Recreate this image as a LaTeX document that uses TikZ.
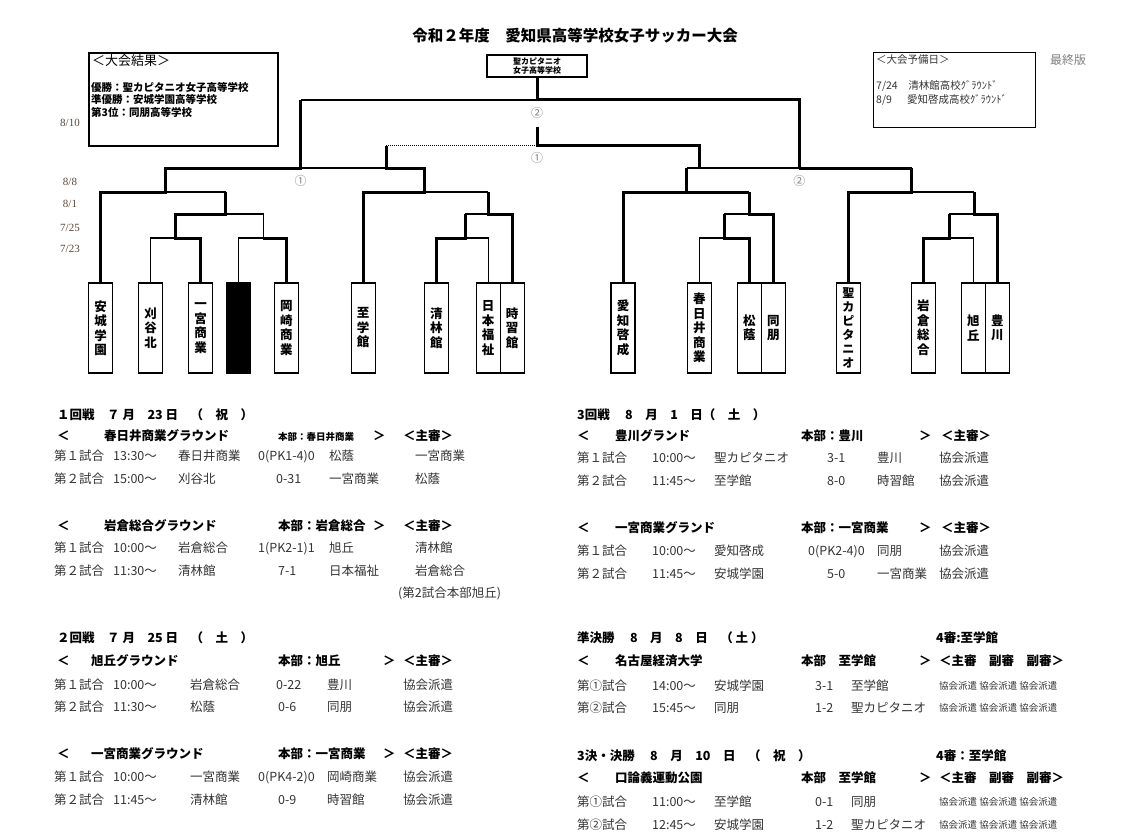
\documentclass[tikz,border=0pt]{standalone}
\usepackage{fontspec}
\setmainfont{Noto Sans CJK JP}
\newfontfamily\serifnum{Liberation Serif}
\definecolor{DateInk}{HTML}{5A4636}
\definecolor{RowInk}{HTML}{333333}
\tikzset{
  win/.style={line width=3pt},
  lose/.style={line width=1.2pt},
  team/.style={draw, line width=1.3pt, minimum width=24pt, minimum height=90pt,
    inner sep=0pt, align=center, font=\bfseries\fontsize{12.5}{14.5}\selectfont},
  frame/.style={draw, line width=1.6pt},
  datelbl/.style={anchor=base, font=\serifnum\fontsize{11}{11}\selectfont, text=DateInk},
  roundno/.style={font=\fontsize{12}{12}\selectfont, text=gray},
  txt/.style={anchor=base west, inner sep=0pt, text=RowInk, font=\fontsize{12.5}{12.5}\selectfont},
  hdr/.style={anchor=base west, inner sep=0pt, font=\bfseries\fontsize{12.5}{12.5}\selectfont},
  small/.style={anchor=base west, inner sep=0pt, text=RowInk, font=\fontsize{9.5}{9.5}\selectfont}
}
\newcommand{\kyo}{協会派遣 協会派遣 協会派遣}
\begin{document}
\begin{tikzpicture}[x=1pt,y=-1pt]
  \useasboundingbox (0,0) rectangle (1143,840);
  % title and boxes
  \node[font=\bfseries\fontsize{15.5}{15.5}\selectfont] (title) at (575,36) {令和２年度　愛知県高等学校女子サッカー大会};
  \node[frame, minimum width=189pt, minimum height=93pt, anchor=north west] (result) at (88,52) {};
  \node[anchor=north west, inner sep=0pt, font=\fontsize{13}{13}\selectfont] (resulthd) at (92,54) {＜大会結果＞};
  \node[anchor=north west, inner sep=0pt, align=left, font=\bfseries\fontsize{10.5}{12.5}\selectfont] (resulttx) at (91,82)
    {優勝：聖カピタニオ女子高等学校\\準優勝：安城学園高等学校\\第3位：同朋高等学校};
  \node[frame, minimum width=100pt, minimum height=22pt, inner sep=0pt, align=center,
    font=\bfseries\fontsize{8}{9}\selectfont] (champ) at (537,66) {聖カピタニオ\\女子高等学校};
  \node[draw, line width=1.3pt, minimum width=162pt, minimum height=75pt, anchor=north west] (reserve) at (873,52) {};
  \node[anchor=north west, inner sep=0pt, text=RowInk, font=\fontsize{10.5}{10.5}\selectfont] (reservehd) at (876,54) {＜大会予備日＞};
  \node[anchor=north west, inner sep=0pt, align=left, text=RowInk, font=\fontsize{10.5}{14}\selectfont] (reservetx) at (876,80)
    {7/24\quad 清林館高校ｸﾞﾗｳﾝﾄﾞ\\8/9\quad\ \ 愛知啓成高校ｸﾞﾗｳﾝﾄﾞ};
  \node[text=gray, font=\fontsize{12}{12}\selectfont] (final) at (1068,60) {最終版};
  % dates
  \foreach \d/\y [count=\i] in {{8/10}/127, {8/8}/185, {8/1}/207, {7/25}/231, {7/23}/252}
    \node[datelbl] (date\i) at (70,\y) {\d};
  % teams
  \node[team] (ajo) at (100.7,328) {安\\城\\学\\園};
  \node[team] (kari) at (150.7,328) {刈\\谷\\北};
  \node[team] (ichi) at (200.7,328) {一\\宮\\商\\業};
  \node[team, fill=black] (blk) at (238.2,328) {};
  \node[team] (oka) at (286.4,328) {岡\\崎\\商\\業};
  \node[team] (shi) at (363.2,328) {至\\学\\館};
  \node[team] (sei) at (436.4,328) {清\\林\\館};
  \node[team] (nih) at (488.2,328) {日\\本\\福\\祉};
  \node[team] (jis) at (512.2,328) {時\\習\\館};
  \node[team] (aik) at (623,328) {愛\\知\\啓\\成};
  \node[team] (kas) at (699.3,328) {春\\日\\井\\商\\業};
  \node[team] (sho) at (749.3,328) {松\\蔭};
  \node[team] (dou) at (773.3,328) {同\\朋};
  \node[team, font=\bfseries\fontsize{12}{14}\selectfont] (cap) at (848.3,328) {聖\\カ\\ピ\\タ\\ニ\\オ};
  \node[team] (iwa) at (923.3,328) {岩\\倉\\総\\合};
  \node[team] (asa) at (973.3,328) {旭\\丘};
  \node[team] (toy) at (997.3,328) {豊\\川};
  % left half
  \draw[lose] (kari.north) |- (175.7,238);
  \draw[win] (ichi.north) |- (175.7,238) -- (175.7,214) -- (225.7,214) -- (225.7,192);
  \draw[lose] (blk.north) |- (263.2,238);
  \draw[win] (oka.north) |- (263.2,238);
  \draw[lose] (263.2,238) |- (225.7,214);
  \draw[win] (ajo.north) |- (165,192) -- (165,168) -- (300.7,168) -- (300.7,100);
  \draw[lose] (165,192) -- (225.7,192);
  \draw[lose] (300.7,168) -- (386.4,168);
  \draw[win] (shi.north) |- (424,192) -- (424,168) -- (386.4,168) -- (386.4,146);
  \draw[win] (sei.north) |- (465,238) -- (465,214);
  \draw[lose] (nih.north) |- (465,238);
  \draw[lose] (465,214) -- (488.2,214);
  \draw[win] (jis.north) |- (488.2,214) -- (488.2,192);
  \draw[lose] (424,192) -- (488.2,192);
  % final and third place
  \draw[win] (champ.south) -- (537,100);
  \draw[lose] (300.7,100) -- (537,100);
  \draw[win] (537,100) -| (799.3,168);
  \draw[line width=1pt, densely dotted] (386.4,146) -- (537,146);
  \draw[win] (537,127) |- (699.3,146) -- (699.3,168);
  % right half
  \draw[lose] (686.8,168) -- (799.3,168);
  \draw[win] (799.3,168) -- (911.8,168);
  \draw[win] (686.8,168) -- (686.8,192) -- (749.3,192);
  \draw[win] (aik.north) |- (686.8,192);
  \draw[lose] (kas.north) |- (724.3,238);
  \draw[win] (sho.north) |- (724.3,238) -- (724.3,214);
  \draw[lose] (724.3,214) -- (749.3,214);
  \draw[win] (dou.north) |- (749.3,214) -- (749.3,192);
  \draw[win] (cap.north) |- (911.8,192) -- (911.8,168);
  \draw[lose] (911.8,192) -- (974.3,192);
  \draw[win] (iwa.north) |- (949.3,238) -- (949.3,214);
  \draw[lose] (asa.north) |- (949.3,238);
  \draw[lose] (949.3,214) -- (974.3,214);
  \draw[win] (toy.north) |- (974.3,214) -- (974.3,192);
  % round numbers
  \node[roundno] (rn1) at (537,113) {②};
  \node[roundno] (rn2) at (537,158) {①};
  \node[roundno] (rn3) at (300.7,181) {①};
  \node[roundno] (rn4) at (799.3,181) {②};
  % 1st round
  \node[hdr] (d1) at (57,419) {１回戦　７ 月　23 日　（　祝　）};
  \foreach \x/\t [count=\i] in {57/＜, 104/春日井商業グラウンド, 373/＞, 403/＜主審＞}
    \node[hdr] (h1-\i) at (\x,440) {\t};
  \node[hdr, font=\bfseries\fontsize{9.5}{9.5}\selectfont] (h1-b) at (278,440) {本部：春日井商業};
  \foreach \x/\t [count=\i] in {54/第１試合, 113/13:30～, 178/春日井商業, 258/0(PK1-4)0, 329/松蔭, 415/一宮商業}
    \node[txt] (a1-\i) at (\x,460) {\t};
  \foreach \x/\t [count=\i] in {54/第２試合, 113/15:00～, 178/刈谷北, 276/0-31, 329/一宮商業, 415/松蔭}
    \node[txt] (a2-\i) at (\x,483) {\t};
  \foreach \x/\t [count=\i] in {57/＜, 104/岩倉総合グラウンド, 278/本部：岩倉総合, 373/＞, 403/＜主審＞}
    \node[hdr] (h2-\i) at (\x,530) {\t};
  \foreach \x/\t [count=\i] in {54/第１試合, 113/10:00～, 178/岩倉総合, 258/1(PK2-1)1, 329/旭丘, 415/清林館}
    \node[txt] (b1-\i) at (\x,552) {\t};
  \foreach \x/\t [count=\i] in {54/第２試合, 113/11:30～, 178/清林館, 278/7-1, 329/日本福祉, 415/岩倉総合}
    \node[txt] (b2-\i) at (\x,575) {\t};
  \node[txt] (note) at (398,597) {(第2試合本部旭丘)};
  % 2nd round
  \node[hdr] (d2) at (57,642) {２回戦　７ 月　25 日　（　土　）};
  \foreach \x/\t [count=\i] in {57/＜, 91/旭丘グラウンド, 278/本部：旭丘, 383/＞, 403/＜主審＞}
    \node[hdr] (h3-\i) at (\x,665) {\t};
  \foreach \x/\t [count=\i] in {54/第１試合, 113/10:00～, 190/岩倉総合, 276/0-22, 327/豊川, 403/協会派遣}
    \node[txt] (c1-\i) at (\x,689) {\t};
  \foreach \x/\t [count=\i] in {54/第２試合, 113/11:30～, 190/松蔭, 278/0-6, 327/同朋, 403/協会派遣}
    \node[txt] (c2-\i) at (\x,711) {\t};
  \foreach \x/\t [count=\i] in {57/＜, 91/一宮商業グラウンド, 278/本部：一宮商業, 383/＞, 403/＜主審＞}
    \node[hdr] (h4-\i) at (\x,758) {\t};
  \foreach \x/\t [count=\i] in {54/第１試合, 113/10:00～, 190/一宮商業, 258/0(PK4-2)0, 327/岡崎商業, 403/協会派遣}
    \node[txt] (e1-\i) at (\x,781) {\t};
  \foreach \x/\t [count=\i] in {54/第２試合, 113/11:45～, 190/清林館, 278/0-9, 327/時習館, 403/協会派遣}
    \node[txt] (e2-\i) at (\x,804) {\t};
  % 3rd round
  \node[hdr] (d3) at (577,419) {3回戦　 8　月　1　日（　土　）};
  \foreach \x/\t [count=\i] in {577/＜, 615/豊川グランド, 801/本部：豊川, 919/＞, 941/＜主審＞}
    \node[hdr] (h5-\i) at (\x,440) {\t};
  \foreach \x/\t [count=\i] in {577/第１試合, 652/10:00～, 714/聖カピタニオ, 827/3-1, 877/豊川, 939/協会派遣}
    \node[txt] (f1-\i) at (\x,462) {\t};
  \foreach \x/\t [count=\i] in {577/第２試合, 652/11:45～, 714/至学館, 827/8-0, 877/時習館, 939/協会派遣}
    \node[txt] (f2-\i) at (\x,485) {\t};
  \foreach \x/\t [count=\i] in {577/＜, 615/一宮商業グランド, 801/本部：一宮商業, 919/＞, 941/＜主審＞}
    \node[hdr] (h6-\i) at (\x,532) {\t};
  \foreach \x/\t [count=\i] in {577/第１試合, 652/10:00～, 714/愛知啓成, 808/0(PK2-4)0, 877/同朋, 939/協会派遣}
    \node[txt] (g1-\i) at (\x,555) {\t};
  \foreach \x/\t [count=\i] in {577/第２試合, 652/11:45～, 714/安城学園, 827/5-0, 877/一宮商業, 939/協会派遣}
    \node[txt] (g2-\i) at (\x,578) {\t};
  % semifinal
  \node[hdr] (d4) at (577,642) {準決勝　 8　月　8　日　（ 土 ）};
  \node[hdr] (d4r) at (936,642) {4審:至学館};
  \foreach \x/\t [count=\i] in {577/＜, 615/名古屋経済大学, 801/本部　至学館, 919/＞, 939/＜主審　副審　副審＞}
    \node[hdr] (h7-\i) at (\x,665) {\t};
  \foreach \x/\t [count=\i] in {577/第①試合, 652/14:00～, 714/安城学園, 815/3-1, 851/至学館}
    \node[txt] (k1-\i) at (\x,690) {\t};
  \node[small] (k1-r) at (939,689) {\kyo};
  \foreach \x/\t [count=\i] in {577/第②試合, 652/15:45～, 714/同朋, 815/1-2, 851/聖カピタニオ}
    \node[txt] (k2-\i) at (\x,712) {\t};
  \node[small] (k2-r) at (939,711) {\kyo};
  % third place and final
  \node[hdr] (d5) at (577,760) {3決・決勝　 8　月　10　日　（　祝　）};
  \node[hdr] (d5r) at (936,760) {4審：至学館};
  \foreach \x/\t [count=\i] in {577/＜, 615/口論義運動公園, 801/本部　至学館, 919/＞, 939/＜主審　副審　副審＞}
    \node[hdr] (h8-\i) at (\x,782) {\t};
  \foreach \x/\t [count=\i] in {577/第①試合, 652/11:00～, 714/至学館, 815/0-1, 851/同朋}
    \node[txt] (m1-\i) at (\x,806) {\t};
  \node[small] (m1-r) at (939,805) {\kyo};
  \foreach \x/\t [count=\i] in {577/第②試合, 652/12:45～, 714/安城学園, 815/1-2, 851/聖カピタニオ}
    \node[txt] (m2-\i) at (\x,829) {\t};
  \node[small] (m2-r) at (939,828) {\kyo};
\end{tikzpicture}
\end{document}
